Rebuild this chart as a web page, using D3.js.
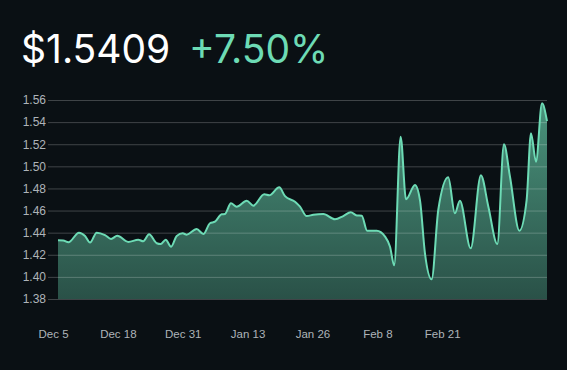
<!DOCTYPE html>
<html>
<head>
<meta charset="utf-8">
<script src="https://cdn.jsdelivr.net/npm/d3@7"></script>
<style>
	html, body { margin: 0; padding: 0; background: #0a1014; }
	svg { display: block; }
</style>
</head>
<body>
<svg class="mainsvg" width="567" height="370"></svg>
<script>
// price readings
var dates = [
	"2022-12-06T00:00", "2022-12-07T01:00", "2022-12-08T02:00", "2022-12-10T05:00", "2022-12-11T10:00",
	"2022-12-12T10:00", "2022-12-13T18:00", "2022-12-15T10:00", "2022-12-16T15:00", "2022-12-17T21:00",
	"2022-12-20T02:00", "2022-12-22T02:00", "2022-12-23T02:00", "2022-12-24T06:00", "2022-12-25T19:00",
	"2022-12-26T14:00", "2022-12-27T14:00", "2022-12-28T16:00", "2022-12-29T19:00", "2022-12-31T00:00",
	"2022-12-31T19:00", "2023-01-02T19:00", "2023-01-04T03:00", "2023-01-05T11:00", "2023-01-06T11:00",
	"2023-01-07T19:00", "2023-01-08T11:00", "2023-01-09T16:00", "2023-01-10T19:00", "2023-01-12T20:00",
	"2023-01-14T03:00", "2023-01-16T08:00", "2023-01-17T08:00", "2023-01-19T08:00", "2023-01-20T12:00",
	"2023-01-22T12:00", "2023-01-23T12:00", "2023-01-24T20:00", "2023-01-26T04:00", "2023-01-28T04:00",
	"2023-01-30T12:00", "2023-02-01T04:00", "2023-02-02T16:00", "2023-02-03T21:00", "2023-02-04T21:00",
	"2023-02-05T23:00", "2023-02-07T21:00", "2023-02-09T13:00", "2023-02-10T13:00", "2023-02-11T09:00",
	"2023-02-12T16:00", "2023-02-13T18:00", "2023-02-15T13:00", "2023-02-16T13:00", "2023-02-17T13:00",
	"2023-02-18T21:00", "2023-02-20T05:00", "2023-02-22T05:00", "2023-02-23T13:00", "2023-02-24T13:00",
	"2023-02-26T17:00", "2023-02-28T18:00", "2023-03-02T06:00", "2023-03-04T01:00", "2023-03-05T09:00",
	"2023-03-06T14:00", "2023-03-08T11:00", "2023-03-09T22:00", "2023-03-10T19:00", "2023-03-11T19:00",
	"2023-03-13T00:00", "2023-03-14T00:00"
];
var prices = [
	1.4331, 1.4330, 1.4313, 1.4400, 1.4370,
	1.4310, 1.4400, 1.4378, 1.4343, 1.4372,
	1.4316, 1.4336, 1.4322, 1.4385, 1.4304,
	1.4297, 1.4336, 1.4273, 1.4370, 1.4394,
	1.4382, 1.4433, 1.4388, 1.4485, 1.4499,
	1.4566, 1.4569, 1.4665, 1.4635, 1.4689,
	1.4644, 1.4747, 1.4738, 1.4810, 1.4730,
	1.4680, 1.4635, 1.4550, 1.4562, 1.4569,
	1.4521, 1.4550, 1.4584, 1.4556, 1.4553,
	1.4418, 1.4418, 1.4364, 1.4273, 1.4105,
	1.5268, 1.4702, 1.4831, 1.4695, 1.4213,
	1.3978, 1.4605, 1.4901, 1.4575, 1.4689,
	1.4258, 1.4919, 1.4635, 1.4297, 1.5199,
	1.4906, 1.4418, 1.4695, 1.5299, 1.5042,
	1.5570, 1.5409
];
var yTicks = [1.38, 1.40, 1.42, 1.44, 1.46, 1.48, 1.50, 1.52, 1.54, 1.56];
var xTicks = ["2022-12-05", "2022-12-18", "2022-12-31", "2023-01-13", "2023-01-26", "2023-02-08", "2023-02-21"];
var priceLabel = "$1.5409";
var changeLabel = "+7.50%";

var _width = 567, _height = 370;
var plotLeft = 58, plotRight = 547, plotTop = 100, plotBottom = 299;
var lineColor = '#6ddbb5';

var parseTime = d3.timeParse("%Y-%m-%dT%H:%M");
var parseDay = d3.timeParse("%Y-%m-%d");
var data = dates.map(function (d, i) { return {date: parseTime(d), value: prices[i]}; });

var svg = d3.select('.mainsvg');

var x = d3.scaleTime()
	.domain(d3.extent(data, function (d) { return d.date; }))
	.range([plotLeft, plotRight]);
var y = d3.scaleLinear()
	.domain([1.38, 1.56])
	.range([plotBottom, plotTop]);

// header
svg.append('text')
	.attr('x', 21)
	.attr('y', 63)
	.attr('fill', '#ffffff')
	.attr('font-family', 'Inter, sans-serif')
	.attr('font-size', '39px')
	.text(priceLabel)

svg.append('text')
	.attr('x', 189)
	.attr('y', 63)
	.attr('fill', lineColor)
	.attr('font-family', 'Inter, sans-serif')
	.attr('font-size', '39px')
	.text(changeLabel)

// area gradient
var grad = svg.append('defs').append('linearGradient')
	.attr('id', 'fillgrad')
	.attr('gradientUnits', 'userSpaceOnUse')
	.attr('x1', 0).attr('x2', 0)
	.attr('y1', plotTop).attr('y2', plotBottom)
grad.append('stop').attr('offset', '0%').attr('stop-color', lineColor).attr('stop-opacity', 0.65)
grad.append('stop').attr('offset', '100%').attr('stop-color', lineColor).attr('stop-opacity', 0.32)

var area = d3.area()
	.x(function (d) { return x(d.date); })
	.y0(plotBottom)
	.y1(function (d) { return y(d.value); })
	.curve(d3.curveMonotoneX)

var line = d3.line()
	.x(function (d) { return x(d.date); })
	.y(function (d) { return y(d.value); })
	.curve(d3.curveMonotoneX)

svg.append('path')
	.datum(data)
	.attr('d', area)
	.attr('fill', 'url(#fillgrad)')

// y axis with grid
var yAxis = svg.append('g')
	.attr('transform', 'translate(' + plotLeft + ',0)')
	.call(d3.axisLeft(y).tickValues(yTicks).tickFormat(d3.format('.2f')).tickSize(10).tickPadding(2))
yAxis.select('.domain').remove()
yAxis.selectAll('.tick line')
	.attr('stroke', 'rgba(255,255,255,0.22)')
	.attr('x1', -10)
	.attr('x2', plotRight - plotLeft)
yAxis.selectAll('.tick text')
	.attr('fill', '#aeb4b9')
	.attr('font-family', 'Liberation Sans, Arial, sans-serif')
	.attr('font-size', '12px')

svg.append('path')
	.datum(data)
	.attr('d', line)
	.attr('fill', 'none')
	.attr('stroke', lineColor)
	.attr('stroke-width', 2)

// x axis labels
var xAxis = svg.append('g')
	.attr('transform', 'translate(0,' + plotBottom + ')')
	.call(d3.axisBottom(x).tickValues(xTicks.map(parseDay)).tickFormat(d3.timeFormat('%b %-d')).tickSize(0).tickPadding(31))
xAxis.select('.domain').remove()
xAxis.selectAll('.tick text')
	.attr('fill', '#aeb4b9')
	.attr('font-family', 'Liberation Sans, Arial, sans-serif')
	.attr('font-size', '11.5px')
</script>
</body>
</html>
